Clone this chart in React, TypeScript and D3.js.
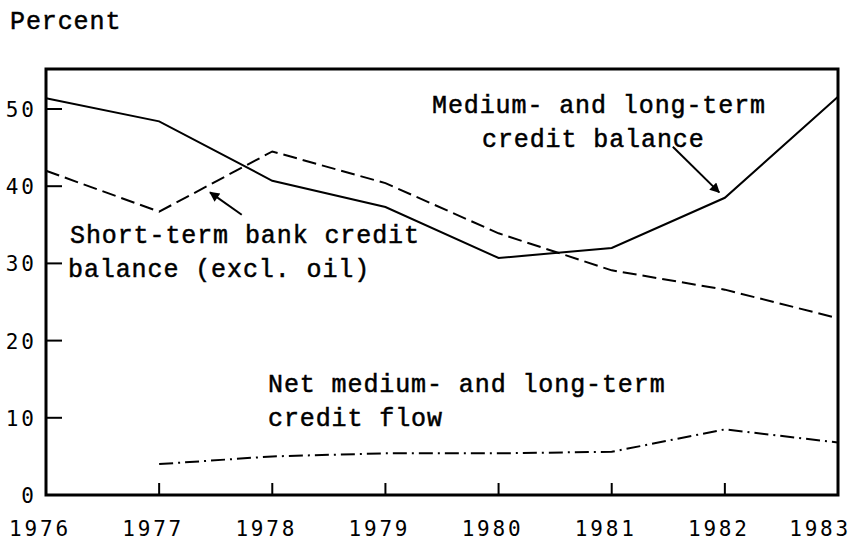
import React, { useEffect, useRef } from "react";
import * as d3 from "d3";

const years = [1976, 1977, 1978, 1979, 1980, 1981, 1982, 1983];
const yTicks = [0, 10, 20, 30, 40, 50];

// medium- and long-term credit balance (solid)
const mediumLongBalance = [51.4, 48.4, 40.7, 37.3, 30.7, 32.0, 38.5, 51.6];
// short-term bank credit balance, excl. oil (dashed)
const shortTermBalance = [42.0, 36.7, 44.5, 40.4, 33.9, 29.1, 26.6, 22.9];
// net medium- and long-term credit flow (dash-dot), starts 1977
const netFlow = [null, 4.0, 5.0, 5.4, 5.4, 5.6, 8.5, 6.8];

const W = 853;
const H = 543;
const frame = { left: 46, right: 838, top: 69, bottom: 495 };

const typeFont = "'Liberation Mono', 'Courier New', monospace";
const tickFont = "'DejaVu Sans Mono', monospace";

export default function App() {
  const ref = useRef<SVGSVGElement>(null);

  useEffect(() => {
    const svg = d3.select(ref.current);
    svg.selectAll("*").remove();

    const x = d3.scaleLinear().domain([1976, 1983]).range([frame.left, frame.right]);
    const y = d3.scaleLinear().domain([0, 50]).range([frame.bottom, 109]);

    const defs = svg.append("defs");
    defs
      .append("marker")
      .attr("id", "head")
      .attr("viewBox", "0 0 10 10")
      .attr("refX", 9)
      .attr("refY", 5)
      .attr("markerWidth", 12)
      .attr("markerHeight", 10)
      .attr("markerUnits", "userSpaceOnUse")
      .attr("orient", "auto")
      .append("path")
      .attr("d", "M0,0 L10,5 L0,10 Z")
      .attr("fill", "#000");

    // frame
    svg
      .append("rect")
      .attr("x", frame.left)
      .attr("y", frame.top)
      .attr("width", frame.right - frame.left)
      .attr("height", frame.bottom - frame.top)
      .attr("fill", "none")
      .attr("stroke", "#000")
      .attr("stroke-width", 3);

    // y ticks (inward)
    svg
      .append("g")
      .selectAll("line")
      .data(yTicks.filter((d) => d > 0))
      .join("line")
      .attr("x1", frame.left)
      .attr("x2", frame.left + 16)
      .attr("y1", (d) => y(d))
      .attr("y2", (d) => y(d))
      .attr("stroke", "#000")
      .attr("stroke-width", 2);

    svg
      .append("g")
      .selectAll("text")
      .data(yTicks)
      .join("text")
      .attr("x", 37)
      .attr("y", (d) => y(d) + 8)
      .attr("text-anchor", "end")
      .attr("font-family", tickFont)
      .attr("font-size", 21)
      .attr("letter-spacing", 3)
      .text((d) => d);

    // x ticks (upward)
    svg
      .append("g")
      .selectAll("line")
      .data(years.slice(1, -1))
      .join("line")
      .attr("x1", (d) => x(d))
      .attr("x2", (d) => x(d))
      .attr("y1", frame.bottom)
      .attr("y2", frame.bottom - 12)
      .attr("stroke", "#000")
      .attr("stroke-width", 2);

    const last = years[years.length - 1];
    svg
      .append("g")
      .selectAll("text")
      .data(years)
      .join("text")
      .attr("x", (d) => (d === last ? W - 2 : x(d) - 6))
      .attr("y", 536)
      .attr("text-anchor", (d) => (d === last ? "end" : "middle"))
      .attr("font-family", tickFont)
      .attr("font-size", 21)
      .attr("letter-spacing", 2.8)
      .text((d) => d);

    const line = d3
      .line<number | null>()
      .defined((d) => d !== null)
      .x((_, i) => x(years[i]))
      .y((d) => y(d as number));

    svg
      .append("path")
      .datum(mediumLongBalance)
      .attr("d", line)
      .attr("fill", "none")
      .attr("stroke", "#000")
      .attr("stroke-width", 2);

    svg
      .append("path")
      .datum(shortTermBalance)
      .attr("d", line)
      .attr("fill", "none")
      .attr("stroke", "#000")
      .attr("stroke-width", 2)
      .attr("stroke-dasharray", "14 6");

    svg
      .append("path")
      .datum(netFlow)
      .attr("d", line)
      .attr("fill", "none")
      .attr("stroke", "#000")
      .attr("stroke-width", 2)
      .attr("stroke-dasharray", "14 5 2 5");

    // annotations
    const notes = [
      { x: 432, y: 113, t: "Medium- and long-term" },
      { x: 482, y: 147, t: "credit balance" },
      { x: 70, y: 243, t: "Short-term bank credit" },
      { x: 68, y: 277, t: "balance (excl. oil)" },
      { x: 268, y: 392, t: "Net medium- and long-term" },
      { x: 268, y: 426, t: "credit flow" },
      { x: 10, y: 29, t: "Percent" },
    ];
    svg
      .append("g")
      .selectAll("text")
      .data(notes)
      .join("text")
      .attr("x", (d) => d.x)
      .attr("y", (d) => d.y)
      .attr("font-family", typeFont)
      .attr("font-size", 25)
      .attr("letter-spacing", 0.9)
      .attr("stroke", "#000")
      .attr("stroke-width", 0.5)
      .text((d) => d.t);

    const arrows = [
      { from: [1981.54, 45.1], to: [1981.95, 39.2] },
      { from: [1977.73, 36.3], to: [1977.45, 39.2] },
    ];
    svg
      .append("g")
      .selectAll("line")
      .data(arrows)
      .join("line")
      .attr("x1", (d) => x(d.from[0]))
      .attr("y1", (d) => y(d.from[1]))
      .attr("x2", (d) => x(d.to[0]))
      .attr("y2", (d) => y(d.to[1]))
      .attr("stroke", "#000")
      .attr("stroke-width", 2)
      .attr("marker-end", "url(#head)");
  }, []);

  return (
    <svg
      ref={ref}
      width={W}
      height={H}
      style={{ position: "absolute", left: 0, top: 0, background: "#fff" }}
    />
  );
}
